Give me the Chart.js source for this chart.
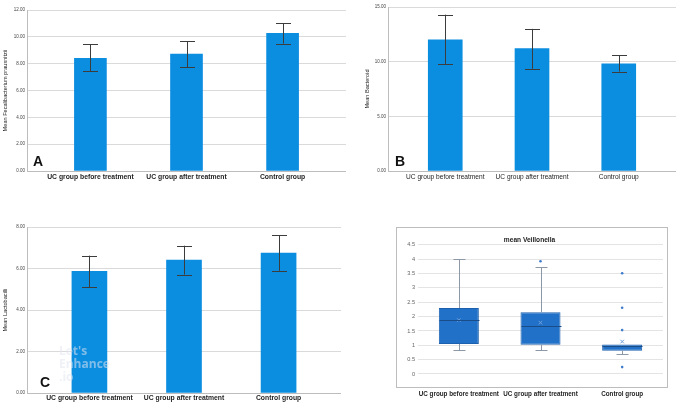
<!DOCTYPE html>
<html>
<head>
<meta charset="utf-8">
<script src="https://cdn.jsdelivr.net/npm/chart.js@4.4.0/dist/chart.umd.min.js"></script>
<style>
body{margin:0;background:#fff;width:676px;height:403px;overflow:hidden;position:relative;font-family:"Liberation Sans",Arial,sans-serif}
.p{position:absolute}
.tag{position:absolute;font:bold 14px "Liberation Sans",Arial,sans-serif;color:#111;line-height:1}
.wm{position:absolute;left:59px;top:344px;font:bold 12px "Open Sans",sans-serif;line-height:13px;color:rgba(225,230,240,.55)}
</style>
</head>
<body>
<div class="p" style="left:0;top:0;width:346px;height:190px"><canvas id="cA"></canvas></div>
<div class="p" style="left:362px;top:0;width:314px;height:190px"><canvas id="cB"></canvas></div>
<div class="p" style="left:0;top:215px;width:341px;height:188px"><canvas id="cC"></canvas></div>
<div class="p" style="left:396px;top:227px;width:273px;height:176px"><canvas id="cD"></canvas></div>
<div class="wm">Let's<br>Enhance<br>.io</div>
<div class="tag" style="left:33px;top:154px">A</div>
<div class="tag" style="left:395px;top:154px">B</div>
<div class="tag" style="left:40px;top:375px">C</div>
<script>
// groups
const groups = ['UC group before treatment', 'UC group after treatment', 'Control group']

// A - Faecalibacterium prausnitzii
const fecaliMean = [8.4, 8.72, 10.26]
const fecaliLow = [7.45, 7.73, 9.5]
const fecaliHigh = [9.45, 9.66, 11.0]
const fecaliTicks = [0, 2, 4, 6, 8, 10, 12]

// B - Bacteroid
const bactMean = [12.0, 11.2, 9.8]
const bactLow = [9.8, 9.35, 9.1]
const bactHigh = [14.3, 13.0, 10.6]
const bactTicks = [0, 5, 10, 15]

// C - Lactobacilli
const lactoMean = [5.86, 6.4, 6.74]
const lactoLow = [5.09, 5.71, 5.89]
const lactoHigh = [6.62, 7.1, 7.6]
const lactoTicks = [0, 2, 4, 6, 8]

// D - Veillonella box plot
const veilMin = [0.85, 0.84, 0.69]
const veilQ1 = [1.05, 1.02, 0.81]
const veilMedian = [1.88, 1.67, 0.97]
const veilQ3 = [2.30, 2.15, 1.03]
const veilMax = [4.0, 3.72, 1.03]
const veilMean = [1.88, 1.79, 1.13]
const veilOutliers = [[], [3.93], [3.51, 2.31, 1.53, 0.24]]
const veilTicks = [0, 0.5, 1, 1.5, 2, 2.5, 3, 3.5, 4, 4.5]

const FONT = '"Liberation Sans", Arial, sans-serif'
Chart.defaults.font.family = FONT
Chart.defaults.animation = false

const errBars = {
    id: 'errBars',
    afterDatasetsDraw(chart, args, opts) {
        const ctx = chart.ctx
        const xs = chart.scales.x, ys = chart.scales.y
        ctx.save()
        ctx.strokeStyle = '#3c3c3c'
        ctx.lineWidth = 1
        for (let i = 0; i < opts.low.length; i++) {
            const x = Math.round(xs.getPixelForValue(i)) + 0.5
            const y1 = ys.getPixelForValue(opts.low[i])
            const y2 = ys.getPixelForValue(opts.high[i])
            ctx.beginPath()
            ctx.moveTo(x, y1); ctx.lineTo(x, y2)
            ctx.moveTo(x - 7.5, Math.round(y1) + 0.5); ctx.lineTo(x + 7.5, Math.round(y1) + 0.5)
            ctx.moveTo(x - 7.5, Math.round(y2) + 0.5); ctx.lineTo(x + 7.5, Math.round(y2) + 0.5)
            ctx.stroke()
        }
        ctx.restore()
    }
}

function barChart(id, mean, low, high, ticks, title, yWidth, padTop, xHeight, xPad, thick, xFont) {
    return new Chart(document.getElementById(id), {
        type: 'bar',
        data: {
            datasets: [{
                data: mean.map((v, i) => ({x: i, y: v})),
                backgroundColor: '#0b8de0',
                borderWidth: 0,
                barThickness: thick
            }]
        },
        options: {
            responsive: true,
            maintainAspectRatio: false,
            layout: {padding: {top: padTop, left: 0, right: 0, bottom: 0}},
            plugins: {
                legend: {display: false},
                tooltip: {enabled: false},
                errBars: {low: low, high: high}
            },
            scales: {
                x: {
                    type: 'linear',
                    offset: false,
                    min: -0.66, max: 2.66,
                    afterBuildTicks: s => { s.ticks = groups.map((g, i) => ({value: i})) },
                    afterFit: s => { s.height = xHeight },
                    grid: {display: false, drawTicks: false},
                    border: {display: true, color: '#bdbdbd'},
                    ticks: {
                        callback: v => groups[v],
                        autoSkip: false, maxRotation: 0, padding: xPad,
                        color: '#1e1e1e', font: xFont
                    }
                },
                y: {
                    min: 0, max: ticks[ticks.length - 1],
                    afterBuildTicks: s => { s.ticks = ticks.map(v => ({value: v})) },
                    afterFit: s => { s.width = yWidth },
                    grid: {color: '#dadada', drawTicks: false},
                    border: {display: true, color: '#bdbdbd'},
                    ticks: {callback: v => v.toFixed(2), padding: 2, color: '#444', font: {size: 4.5}},
                    title: {display: true, text: title, color: '#222', font: {size: 5.6}, padding: {top: 2, bottom: 0}}
                }
            }
        },
        plugins: [errBars]
    })
}

barChart('cA', fecaliMean, fecaliLow, fecaliHigh, fecaliTicks, 'Mean Fecalibacterium prausnitzii', 27, 10, 19, 2, 32, {size: 6.8, weight: 'bold'})
barChart('cB', bactMean, bactLow, bactHigh, bactTicks, 'Mean Bacteroid', 26, 7, 19, 2, 34, {size: 6.6})
barChart('cC', lactoMean, lactoLow, lactoHigh, lactoTicks, 'Mean Lactobacilli', 27, 12, 10, 1, 35, {size: 6.8, weight: 'bold'})

// box plot pieces drawn through the scales
const boxParts = {
    id: 'boxParts',
    beforeDraw(chart) {
        const ctx = chart.ctx
        ctx.save()
        ctx.strokeStyle = '#bdbdbd'
        ctx.lineWidth = 1
        ctx.strokeRect(0.5, 0.5, 271, 160)
        ctx.restore()
    },
    afterDatasetsDraw(chart) {
        const ctx = chart.ctx
        const xs = chart.scales.x, ys = chart.scales.y
        const meta = chart.getDatasetMeta(0)
        ctx.save()
        for (let i = 0; i < groups.length; i++) {
            const x = Math.round(xs.getPixelForValue(i)) + 0.5
            const w = meta.data[i].width
            const yMax = Math.round(ys.getPixelForValue(veilMax[i])) + 0.5
            const yMin = Math.round(ys.getPixelForValue(veilMin[i])) + 0.5
            const yQ1 = ys.getPixelForValue(veilQ1[i])
            const yQ3 = ys.getPixelForValue(veilQ3[i])
            ctx.strokeStyle = '#8c97a8'
            ctx.lineWidth = 1
            ctx.beginPath()
            if (veilMax[i] > veilQ3[i]) {
                ctx.moveTo(x, yQ3); ctx.lineTo(x, yMax)
                ctx.moveTo(x - 6, yMax); ctx.lineTo(x + 6, yMax)
            }
            ctx.moveTo(x, yQ1); ctx.lineTo(x, yMin)
            ctx.moveTo(x - 6, yMin); ctx.lineTo(x + 6, yMin)
            ctx.stroke()
            const yMed = Math.round(ys.getPixelForValue(veilMedian[i])) + 0.5
            ctx.strokeStyle = '#1a4c88'
            ctx.beginPath()
            ctx.moveTo(x - w / 2, yMed); ctx.lineTo(x + w / 2, yMed)
            ctx.stroke()
        }
        ctx.restore()
    }
}

const outlierPts = []
veilOutliers.forEach((arr, i) => arr.forEach(v => outlierPts.push({x: groups[i], y: v})))

new Chart(document.getElementById('cD'), {
    type: 'bar',
    data: {
        labels: groups,
        datasets: [{
            type: 'bar',
            data: veilQ1.map((v, i) => [v, veilQ3[i]]),
            backgroundColor: '#2271c9',
            borderColor: '#1d60ad',
            borderWidth: 1,
            borderSkipped: false,
            barPercentage: 0.49,
            categoryPercentage: 1,
            order: 2
        }, {
            type: 'scatter',
            data: veilMean.map((v, i) => ({x: groups[i], y: v})),
            pointStyle: 'crossRot',
            radius: 2.5,
            borderColor: '#6f9fdc',
            borderWidth: 1,
            order: 0
        }, {
            type: 'scatter',
            data: outlierPts,
            pointStyle: 'circle',
            radius: 1.3,
            backgroundColor: '#3d7bcc',
            borderColor: '#3d7bcc',
            borderWidth: 0,
            order: 0
        }]
    },
    options: {
        responsive: true,
        maintainAspectRatio: false,
        layout: {padding: {top: 0, left: 0, right: 6, bottom: 0}},
        plugins: {
            legend: {display: false},
            tooltip: {enabled: false},
            title: {
                display: true, text: 'mean Veillonella', color: '#222',
                font: {size: 6.6, weight: 'bold'}, padding: {top: 9, bottom: 1}
            }
        },
        scales: {
            x: {
                type: 'category',
                offset: true,
                afterFit: s => { s.height = 29 },
                grid: {display: false, drawTicks: false},
                border: {display: false},
                ticks: {padding: 16, color: '#1e1e1e', font: {size: 6.3, weight: 'bold'}, maxRotation: 0, autoSkip: false}
            },
            y: {
                min: 0, max: 4.5,
                afterBuildTicks: s => { s.ticks = veilTicks.map(v => ({value: v})) },
                afterFit: s => { s.width = 22 },
                grid: {color: '#e4e4e4', drawTicks: false},
                border: {display: false},
                ticks: {callback: v => String(v), padding: 3, color: '#666', font: {size: 5.6}}
            }
        }
    },
    plugins: [boxParts]
})
</script>
</body>
</html>
